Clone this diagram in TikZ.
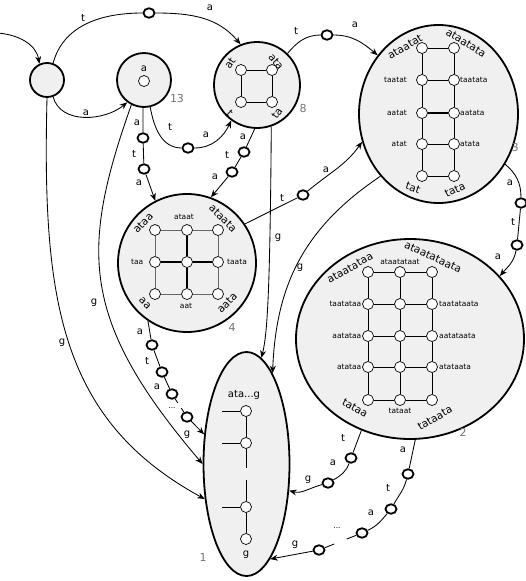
\documentclass[tikz,border=0pt]{standalone}
\usepackage{fontspec}
\setmainfont{DejaVu Sans}
\usetikzlibrary{arrows.meta,shapes.geometric}
\tikzset{
 big/.style={draw, line width=1.8pt, fill=black!6, inner sep=0pt},
 vx/.style={circle, draw, fill=white, line width=0.7pt, minimum size=11pt, inner sep=0pt},
 ch/.style={ellipse, draw, fill=white, line width=1.8pt, minimum width=11pt, minimum height=9.5pt, inner sep=0pt},
 lab/.style={font=\fontsize{10}{12}\selectfont, inner sep=0pt},
 sm/.style={font=\fontsize{7.5}{9}\selectfont, inner sep=0pt},
 rl/.style={font=\fontsize{10.5}{12}\selectfont, inner sep=0pt},
 num/.style={font=\fontsize{11}{13}\selectfont, text=black!55, inner sep=0pt},
 conn/.style={line width=0.85pt},
 arr/.style={conn, -{Stealth[length=7.5pt,width=6pt]}},
 ge/.style={line width=0.8pt},
 gg/.style={line width=0.9pt, draw=black!60},
 gt/.style={line width=1.4pt},
}
\begin{document}
\begin{tikzpicture}[x=1pt,y=-1pt]
\useasboundingbox (0,0) rectangle (526,581);
% ---- big states
\node[big,circle,minimum size=34pt] (init) at (47,80) {};
\node[big,circle,minimum size=54pt] (n13) at (144,80) {};
\node[big,circle,minimum size=86pt] (n8) at (257,85) {};
\node[big,ellipse,minimum width=159pt,minimum height=178pt] (n3) at (438.5,114) {};
\node[big,circle,minimum size=138pt] (n4) at (187,263) {};
\node[big,ellipse,minimum width=228pt,minimum height=200pt] (n2) at (410,339) {};
\node[big,ellipse,minimum width=86pt,minimum height=224pt] (n1) at (246.5,464) {};
% ---- state numbers
\node[num] (k13) at (177,98) {13};
\node[num] (k8) at (303,108) {8};
\node[num] (k3) at (515,147) {3};
\node[num] (k4) at (232,327) {4};
\node[num] (k2) at (463,432) {2};
\node[num] (k1) at (203,557) {1};
% ---- state 13 inside
\node[lab] (i13) at (144,69) {a};
\node[vx] (v13) at (144,81) {};
% ---- state 8 inside
\node[vx] (e1) at (241,70) {};
\node[vx] (e2) at (272,70) {};
\node[vx] (e3) at (241,102) {};
\node[vx] (e4) at (272,102) {};
\draw[ge] (e1) -- (e2); \draw[ge] (e3) -- (e4);
\draw[ge] (e1) -- (e3); \draw[ge] (e2) -- (e4);
\node[rl,rotate=55] (le1) at (230,63) {at};
\node[rl,rotate=-50] (le2) at (276,62) {ata};
\node[rl,rotate=-45] (le3) at (230,113) {t};
\node[rl,rotate=55] (le4) at (277,113) {ta};
% ---- state 3 inside (ladder)
\foreach \r/\y in {1/48,2/80,3/113,4/144,5/176} {
  \node[vx] (tl\r) at (422,\y) {};
  \node[vx] (tr\r) at (454,\y) {};
}
\draw[ge] (tl1) -- (tl2) -- (tl3) -- (tl4) -- (tl5);
\draw[ge] (tr1) -- (tr2) -- (tr3) -- (tr4) -- (tr5);
\draw[ge] (tl1) -- (tr1); \draw[ge] (tl2) -- (tr2);
\draw[gt] (tl3) -- (tr3); \draw[ge] (tl4) -- (tr4); \draw[ge] (tl5) -- (tr5);
\node[rl,rotate=30] (lt1) at (405,47) {ataatat};
\node[rl,rotate=-32] (lt2) at (466,43) {ataatata};
\node[sm,anchor=east] (lt3) at (407,80) {taatat};
\node[sm,anchor=east] (lt4) at (407,112.5) {aatat};
\node[sm,anchor=east] (lt5) at (407,144) {atat};
\node[sm,anchor=west] (lt6) at (460,80) {taatata};
\node[sm,anchor=west] (lt7) at (460,112.5) {aatata};
\node[sm,anchor=west] (lt8) at (460,144) {atata};
\node[rl,rotate=-20] (lt9) at (413,188) {tat};
\node[rl,rotate=25] (lt10) at (455,190) {tata};
% ---- state 4 inside (3x3 grid)
\foreach \r/\y in {1/230,2/262,3/294} {
  \foreach \c/\x in {1/155,2/187,3/218} {
    \node[vx] (f\r\c) at (\x,\y) {};
  }
}
\draw[gg] (f11) -- (f12) -- (f13) -- (f23) -- (f33) -- (f32) -- (f31) -- (f21) -- (f11);
\draw[gt] (f12) -- (f22); \draw[gt] (f22) -- (f32);
\draw[gt] (f21) -- (f22); \draw[gt] (f22) -- (f23);
\node[rl,rotate=45] (lf1) at (143,223) {ataa};
\node[sm] (lf2) at (184,217) {ataat};
\node[rl,rotate=-45] (lf3) at (223,218) {ataata};
\node[sm,anchor=east] (lf4) at (143.5,262) {taa};
\node[sm,anchor=west] (lf5) at (227,262) {taata};
\node[rl,rotate=-45] (lf6) at (145,303) {aa};
\node[sm] (lf7) at (186,306) {aat};
\node[rl,rotate=45] (lf8) at (227,303) {aata};
% ---- state 2 inside (5x3 grid)
\foreach \r/\y in {1/272,2/304,3/336,4/367,5/400} {
  \foreach \c/\x in {1/368,2/400,3/432} {
    \node[vx] (h\r\c) at (\x,\y) {};
  }
}
\foreach \c in {1,2,3} { \draw[ge] (h1\c) -- (h2\c) -- (h3\c) -- (h4\c) -- (h5\c); }
\foreach \r in {1,...,5} { \draw[ge] (h\r1) -- (h\r2) -- (h\r3); }
\node[rl,rotate=30] (lh1) at (350,268) {ataatataa};
\node[sm] (lh2) at (400,262) {ataatataat};
\node[rl,rotate=-25] (lh3) at (433,257) {ataatataata};
\node[sm,anchor=east] (lh4) at (361.5,304) {taatataa};
\node[sm,anchor=east] (lh5) at (361.5,336) {aatataa};
\node[sm,anchor=east] (lh6) at (361.5,367) {atataa};
\node[sm,anchor=west] (lh7) at (439,304) {taatataata};
\node[sm,anchor=west] (lh8) at (439,336) {aatataata};
\node[sm,anchor=west] (lh9) at (439,367) {atataata};
\node[rl,rotate=-30] (lh10) at (355,408) {tataa};
\node[sm] (lh11) at (400,411) {tataat};
\node[rl,rotate=30] (lh12) at (435,418) {tataata};
% ---- state 1 inside
\node[lab] (lo1) at (244,395) {ata...g};
\node[vx] (o1) at (246,411) {};
\node[vx] (o2) at (246,443) {};
\node[vx] (o3) at (246,507) {};
\node[vx] (o4) at (246,539) {};
\node[lab] (lo2) at (246,555) {g};
\coordinate (s1) at (222,411);
\coordinate (s2) at (222,443);
\coordinate (s3) at (222,507);
\coordinate (b1) at (246,468);
\coordinate (b2) at (246,480);
\draw[ge] (s1) -- (o1); \draw[ge] (s2) -- (o2); \draw[ge] (s3) -- (o3);
\draw[ge] (o1) -- (o2); \draw[ge] (o2) -- (b1); \draw[ge] (b2) -- (o3); \draw[ge] (o3) -- (o4);
% ---- chain nodes
\node[ch] (c1) at (149,13) {};
\node[ch] (c2) at (143,138) {};
\node[ch] (c3) at (144,169) {};
\node[ch] (c4) at (188,148) {};
\node[ch] (c5) at (327,35) {};
\node[ch] (c6) at (244,152) {};
\node[ch] (c7) at (232,172) {};
\node[ch] (c8) at (303,195) {};
\node[ch] (c9) at (521,203) {};
\node[ch] (c10) at (517,245) {};
\node[ch] (c11) at (152,345) {};
\node[ch] (c12) at (162,372) {};
\node[ch] (c13) at (172,394) {};
\node[ch] (c14) at (187,417) {};
\node[ch] (c15) at (351,458) {};
\node[ch] (c16) at (328,483) {};
\node[ch] (c17) at (408,474) {};
\node[ch] (c18) at (391,509) {};
\node[ch] (c19) at (362,533) {};
\node[ch] (c20) at (319,550) {};
% ---- connectors
\coordinate (in0) at (-2,33);
\draw[arr] (in0) to[out=-5,in=100] (init.115);
\draw[conn] (init.70) to[out=75,in=180] (c1);
\draw[arr] (c1) to[out=0,in=130] (n8.112);
\draw[arr] (init.-70) to[out=-75,in=-140] (n13.-127);
\draw[conn] (n13.-92) -- (c2);
\draw[conn] (c2) -- (c3);
\draw[arr] (c3) -- (n4.117);
\draw[conn] (n13.-77) to[out=-80,in=180] (c4);
\draw[arr] (c4) to[out=0,in=-115] (n8.-126);
\draw[arr] (n13.-117) .. controls (80,250) and (80,320) .. (n1.180);
\draw[arr] (init.-90) .. controls (42,300) and (60,420) .. (n1.-140);
\draw[conn] (n8.46) to[out=50,in=180] (c5);
\draw[arr] (c5) to[out=0,in=140] (n3.136);
\draw[conn] (n8.-93) -- (c6);
\draw[conn] (c6) -- (c7);
\draw[arr] (c7) -- (n4.70);
\draw[arr] (n8.-71) .. controls (270,300) and (267,335) .. (n1.82);
\draw[conn] (n4.34) -- (c8);
\draw[arr] (c8) to[out=40,in=-125] (n3.200);
\draw[arr] (n3.-133) .. controls (300,230) and (276,290) .. (n1.74);
\draw[conn] (n3.-37) to[out=-40,in=90] (c9);
\draw[conn] (c9) -- (c10);
\draw[arr] (c10) to[out=-100,in=50] (n2.35);
\draw[conn] (n4.-124) -- (c11);
\draw[conn] (c11) -- (c12);
\draw[conn] (c12) -- (c13);
\path (c13) -- (c14) coordinate[pos=0.3] (g1) coordinate[pos=0.7] (g2);
\draw[conn] (c13) -- (g1); \draw[conn] (g2) -- (c14);
\draw[arr] (c14) -- (n1.145);
\draw[conn] (n2.-118) -- (c15);
\draw[conn] (c15) to[out=-110,in=30] (c16);
\draw[arr] (c16) to[out=-165,in=-15] (n1.-32);
\draw[conn] (n2.-87) -- (c17);
\draw[conn] (c17) to[out=-105,in=60] (c18);
\draw[conn] (c18) to[out=-130,in=25] (c19);
\path (c19) -- (c20) coordinate[pos=0.3] (g3) coordinate[pos=0.7] (g4);
\draw[conn] (c19) -- (g3); \draw[conn] (g4) -- (c20);
\draw[arr] (c20) -- (n1.-76);
% ---- edge labels
\node[lab] (a1) at (83,18) {t};
\node[lab] (a2) at (210,8) {a};
\node[lab] (a3) at (86,113) {a};
\node[lab] (a4) at (137,123) {a};
\node[lab] (a5) at (134,154) {t};
\node[lab] (a6) at (139,183) {a};
\node[lab] (a7) at (170,127) {t};
\node[lab] (a8) at (206,135) {a};
\node[lab] (a9) at (296,31) {t};
\node[lab] (a10) at (355,25) {a};
\node[lab] (a11) at (243,137) {a};
\node[lab] (a12) at (227,155) {t};
\node[lab] (a13) at (215,177) {a};
\node[lab] (a14) at (278,238) {g};
\node[lab] (a15) at (282,198) {t};
\node[lab] (a16) at (326,170) {a};
\node[lab] (a17) at (300,268) {g};
\node[lab] (a18) at (510,183) {a};
\node[lab] (a19) at (513,222) {t};
\node[lab] (a20) at (498,257) {a};
\node[lab] (a21) at (62,343) {g};
\node[lab] (a22) at (94,303) {g};
\node[lab] (a23) at (140,332) {a};
\node[lab] (a24) at (147,361) {t};
\node[lab] (a25) at (157,387) {a};
\node[sm] (a26) at (172,408) {...};
\node[lab] (a27) at (187,435) {g};
\node[lab] (a28) at (343,438) {t};
\node[lab] (a29) at (333,463) {a};
\node[lab] (a30) at (308,480) {g};
\node[lab] (a31) at (403,450) {a};
\node[lab] (a32) at (388,488) {t};
\node[lab] (a33) at (371,513) {a};
\node[sm] (a34) at (337,528) {...};
\node[lab] (a35) at (295,545) {g};
\end{tikzpicture}
\end{document}
